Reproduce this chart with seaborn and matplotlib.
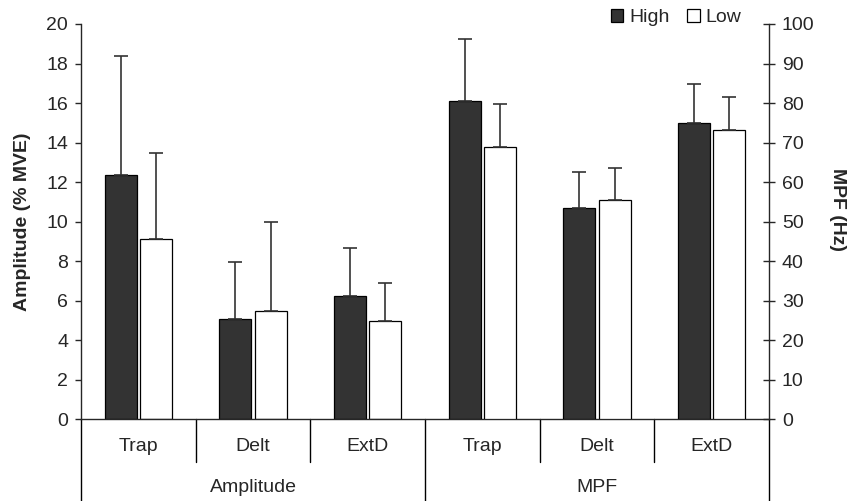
import pandas as pd
import seaborn as sns
import matplotlib.pyplot as plt
import matplotlib.transforms as mtransforms

# values
muscles = ['Trap', 'Delt', 'ExtD']
groups = ['Amplitude', 'MPF']
levels = ['High', 'Low']

amp_high = [12.36, 5.07, 6.22]
amp_high_sd = [6.02, 2.89, 2.45]
amp_low = [9.10, 5.49, 4.99]
amp_low_sd = [4.37, 4.51, 1.92]

mpf_high = [80.6, 53.4, 74.9]
mpf_high_sd = [15.7, 9.2, 10.0]
mpf_low = [68.8, 55.6, 73.2]
mpf_low_sd = [10.9, 7.9, 8.3]

amp_ticks = list(range(0, 21, 2))
mpf_ticks = list(range(0, 101, 10))


def make_df(group, high, high_sd, low, low_sd):
    rows = []
    for m, v, s in zip(muscles, high, high_sd):
        rows.append({'cat': f'{group} {m}', 'level': 'High', 'value': v, 'sd': s})
    for m, v, s in zip(muscles, low, low_sd):
        rows.append({'cat': f'{group} {m}', 'level': 'Low', 'value': v, 'sd': s})
    return pd.DataFrame(rows)


amp_df = make_df('Amplitude', amp_high, amp_high_sd, amp_low, amp_low_sd)
mpf_df = make_df('MPF', mpf_high, mpf_high_sd, mpf_low, mpf_low_sd)
order = [f'{g} {m}' for g in groups for m in muscles]

sns.set_style('ticks')
plt.rcParams['font.family'] = ['Liberation Sans', 'DejaVu Sans']
plt.rcParams['font.size'] = 14
fs = 14

fig = plt.figure(figsize=(8.48, 5.01), dpi=100)
ax = fig.add_axes([0.0955, 0.1631, 0.8113, 0.789])
ax2 = ax.twinx()

palette = {'High': '#333333', 'Low': 'white'}
bar_kw = dict(x='cat', y='value', hue='level', order=order, hue_order=levels,
              palette=palette, width=0.62, gap=0.1, edgecolor='black',
              linewidth=0.9, errorbar=None, saturation=1)

sns.barplot(data=amp_df, ax=ax, legend=True, **bar_kw)
sns.barplot(data=mpf_df, ax=ax2, legend=False, **bar_kw)


def add_errbars(axis, df):
    # upper error bar only, placed on each drawn bar
    for lev, cont in zip(levels, axis.containers):
        for p in cont.patches:
            xc = p.get_x() + p.get_width() / 2
            cat = order[int(round(xc))]
            row = df[(df['cat'] == cat) & (df['level'] == lev)]
            if row.empty:
                continue
            h = row['value'].iloc[0]
            s = row['sd'].iloc[0]
            axis.errorbar(xc, h, yerr=[[0], [s]], fmt='none', ecolor='#333333',
                          elinewidth=1.2, capsize=4.7, capthick=1.2, zorder=1)


add_errbars(ax, amp_df)
add_errbars(ax2, mpf_df)

for a in (ax, ax2):
    a.set_xlim(-0.5, 5.5)
    a.set_xlabel('')
    a.set_xticks([])
    a.spines['top'].set_visible(False)

ax.set_ylim(0, 20)
ax.set_yticks(amp_ticks)
ax2.set_ylim(0, 100)
ax2.set_yticks(mpf_ticks)

ax.spines['right'].set_visible(False)
ax2.spines['left'].set_visible(False)
ax2.spines['bottom'].set_visible(False)
for sp in ('left', 'bottom'):
    ax.spines[sp].set_linewidth(1.0)
ax2.spines['right'].set_linewidth(1.0)

ax.tick_params(axis='y', direction='out', length=4.3, width=1.0, pad=5, labelsize=fs)
ax2.tick_params(axis='y', direction='inout', length=8.5, width=1.0, pad=5, labelsize=fs)

ax.set_ylabel('Amplitude (% MVE)', fontweight='bold', fontsize=fs)
ax.yaxis.set_label_coords(-0.073, 0.5)
ax2.set_ylabel('MPF (Hz)', fontweight='bold', fontsize=fs, rotation=270, va='center')
ax2.yaxis.set_label_coords(1.099, 0.53)

# category axis below the plot
trans = mtransforms.blended_transform_factory(ax.transData, ax.transAxes)
for xb in [-0.5, 2.5, 5.5]:
    ax.plot([xb, xb], [0, -0.3], transform=trans, color='black', lw=1.0, clip_on=False)
for xb in [0.5, 1.5, 3.5, 4.5]:
    ax.plot([xb, xb], [0, -0.108], transform=trans, color='black', lw=1.0, clip_on=False)
for i, cat in enumerate(order):
    ax.text(i, -0.07, cat.split(' ')[1], transform=trans, ha='center', va='center', fontsize=fs)
for j, g in enumerate(groups):
    ax.text(j * 3 + 1, -0.173, g, transform=trans, ha='center', va='center', fontsize=fs)

handles, labels = ax.get_legend_handles_labels()
ax.get_legend().remove()
fig.legend(handles, labels, loc='center', bbox_to_anchor=(676 / 848, 1 - 17.5 / 501),
           bbox_transform=fig.transFigure, ncol=2, frameon=False, fontsize=fs,
           handlelength=0.65, handleheight=0.65, handletextpad=0.3, columnspacing=0.9)

fig.savefig('out.png', dpi=100)
